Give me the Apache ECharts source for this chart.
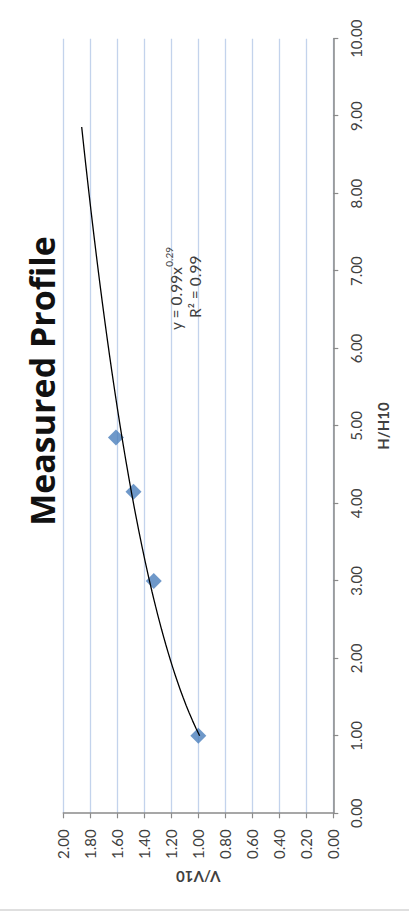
<!DOCTYPE html>
<html>
<head>
<meta charset="utf-8">
<title>Measured Profile</title>
<script src="https://cdn.jsdelivr.net/npm/echarts@6/dist/echarts.min.js"></script>
<style>
  html, body { margin: 0; padding: 0; background: #ffffff; overflow: hidden; }
  body { width: 409px; height: 915px; position: relative; }
  /* The chart is laid out landscape and turned a quarter turn counter-clockwise */
  #chart {
    position: absolute; left: 0; top: 0;
    width: 915px; height: 409px;
    transform-origin: 0 0;
    transform: translate(0, 915px) rotate(-90deg);
    background: #ffffff;
  }
</style>
</head>
<body>
<div id="chart"></div>
<script>
// Measured points: height ratio H/H10 against speed ratio V/V10
const heightRatio = [1.00, 3.00, 4.15, 4.85];
const speedRatio  = [1.00, 1.33, 1.48, 1.61];

// Power-law trendline as stated on the chart: y = 0.99 x^0.29, R² = 0.99
const trendCoef = 0.99;
const trendExp = 0.29;
const trendStart = 1.00;
const trendEnd = 8.86;
const trendSteps = 80;

const titleText = 'Measured Profile';
const xName = 'H/H10';
const yName = 'V/V10';

const FONT = 'Lato, "Open Sans", "DejaVu Sans", sans-serif';
const TITLE_FONT = '"Open Sans", Lato, sans-serif';
const TEXT_COLOR = '#404040';
const AXIS_COLOR = '#8a8a8a';

const points = heightRatio.map((h, i) => [h, speedRatio[i]]);

const trend = [];
for (let i = 0; i <= trendSteps; i++) {
  const h = trendStart + (trendEnd - trendStart) * i / trendSteps;
  trend.push([h, trendCoef * Math.pow(h, trendExp)]);
}

const chart = echarts.init(document.getElementById('chart'), null, { renderer: 'svg' });

chart.setOption({
  animation: false,
  backgroundColor: '#ffffff',
  textStyle: { fontFamily: FONT },
  title: {
    text: titleText,
    left: 529,
    top: 20,
    textAlign: 'center',
    textStyle: { fontFamily: TITLE_FONT, fontSize: 34, fontWeight: 'bold', color: '#111111' }
  },
  grid: { left: 101.7, right: 38.7, top: 63.3, bottom: 75.7, containLabel: false },
  xAxis: {
    type: 'value',
    min: 0, max: 10, interval: 1,
    name: xName,
    nameLocation: 'middle',
    nameGap: 42,
    nameTextStyle: { fontFamily: FONT, fontSize: 15, fontWeight: 'bold', color: TEXT_COLOR },
    axisLine: { show: true, lineStyle: { color: AXIS_COLOR, width: 1.5 } },
    axisTick: { show: true, length: 5, lineStyle: { color: AXIS_COLOR, width: 1.2 } },
    axisLabel: { margin: 15, fontFamily: FONT, fontSize: 15, color: TEXT_COLOR,
                 formatter: v => v.toFixed(2) },
    splitLine: { show: false }
  },
  yAxis: {
    type: 'value',
    min: 0, max: 2, interval: 0.2,
    name: yName,
    nameLocation: 'middle',
    nameRotate: 90,
    nameGap: 56,
    nameTextStyle: { fontFamily: FONT, fontSize: 15, fontWeight: 'bold', color: TEXT_COLOR },
    axisLine: { show: true, lineStyle: { color: AXIS_COLOR, width: 1.5 } },
    axisTick: { show: true, length: 5, lineStyle: { color: AXIS_COLOR, width: 1.2 } },
    axisLabel: { margin: 16, fontFamily: FONT, fontSize: 15, color: TEXT_COLOR,
                 formatter: v => v.toFixed(2) },
    splitLine: { show: true, lineStyle: { color: '#c3d3ec', width: 1.3 } }
  },
  graphic: [
    // outer chart-area edge
    { type: 'line', silent: true, z: 0,
      shape: { x1: 5, y1: 0, x2: 5, y2: 409 },
      style: { stroke: '#d4d4d4', lineWidth: 1.5 } },
    // trendline equation
    { type: 'text', left: 585, top: 164, z: 10,
      style: {
        text: '{b|y = 0.99x}{s|0.29}',
        fill: TEXT_COLOR,
        rich: {
          b: { fontFamily: FONT, fontSize: 15.5, color: TEXT_COLOR, lineHeight: 20, verticalAlign: 'bottom' },
          s: { fontFamily: FONT, fontSize: 10, color: TEXT_COLOR, lineHeight: 20, verticalAlign: 'top' }
        }
      } },
    { type: 'text', left: 597, top: 187, z: 10,
      style: { text: 'R² = 0.99', fill: TEXT_COLOR, font: '15.5px ' + FONT } }
  ],
  series: [
    {
      name: 'Measured',
      type: 'scatter',
      data: points,
      symbol: 'diamond',
      symbolSize: 16,
      itemStyle: { color: '#4a7ebb' },
      z: 2
    },
    {
      name: 'Power fit',
      type: 'line',
      data: trend,
      showSymbol: false,
      smooth: false,
      lineStyle: { color: '#000000', width: 1.3 },
      z: 3
    }
  ]
});
</script>
</body>
</html>
